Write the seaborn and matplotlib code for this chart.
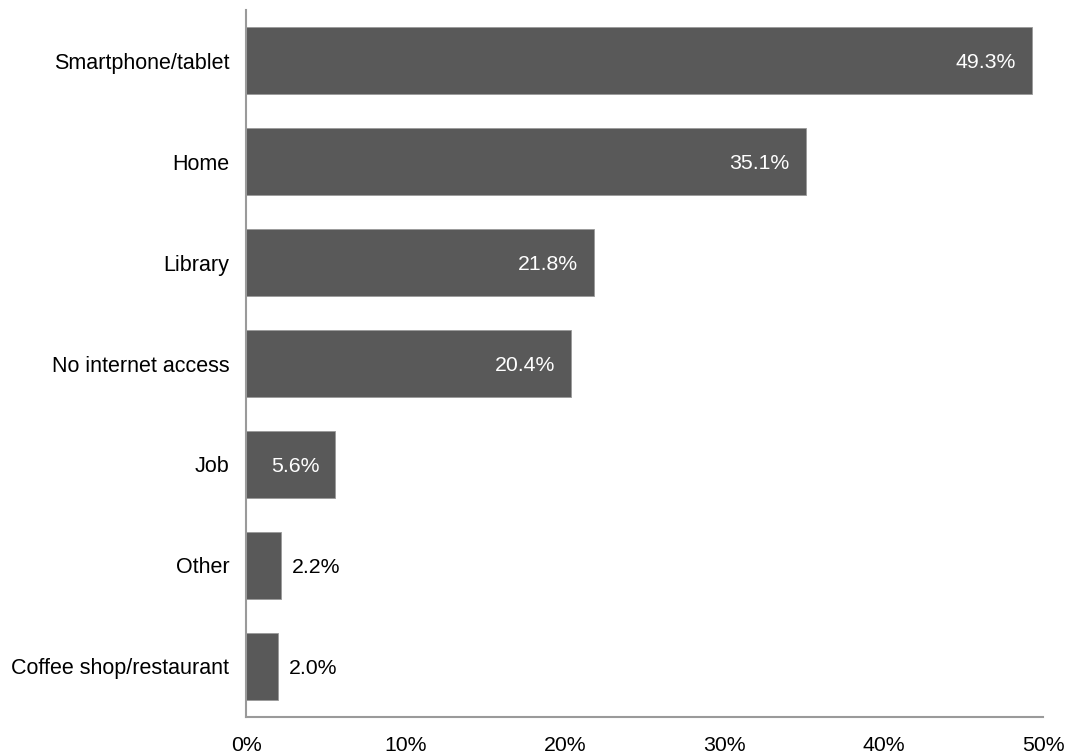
import matplotlib
matplotlib.use("Agg")
import matplotlib.pyplot as plt
import seaborn as sns
import pandas as pd

categories = ["Smartphone/tablet", "Home", "Library", "No internet access",
              "Job", "Other", "Coffee shop/restaurant"]
shares = [49.3, 35.1, 21.8, 20.4, 5.6, 2.2, 2.0]
x_ticks = [0, 10, 20, 30, 40, 50]
x_tick_labels = ["0%", "10%", "20%", "30%", "40%", "50%"]

sns.set_theme(style="white")
plt.rcParams["font.family"] = ["Liberation Sans", "DejaVu Sans"]

df = pd.DataFrame({"where": categories, "share": shares})

fig = plt.figure(figsize=(10.71, 7.54), dpi=100)
ax = fig.add_axes([0.2297, 0.0491, 0.7442, 0.9376])

sns.barplot(data=df, x="share", y="where", color="#595959", saturation=1,
            width=0.66, ax=ax, orient="h")
for p in ax.patches:
    p.set_edgecolor("#9a9a9a")
    p.set_linewidth(0.6)

ax.set_xlim(0, 50)
ax.set_ylim(6.5, -0.5)
ax.set_xticks(x_ticks)
ax.set_xticklabels(x_tick_labels, fontsize=15.3, color="black")
ax.tick_params(axis="y", labelsize=15.5, labelcolor="black", length=0, pad=12)
ax.tick_params(axis="x", length=0, pad=14)
ax.set_xlabel("")
ax.set_ylabel("")

for s in ["top", "right"]:
    ax.spines[s].set_visible(False)
for s in ["left", "bottom"]:
    ax.spines[s].set_color("#9a9a9a")
    ax.spines[s].set_linewidth(1.5)

# value labels: inside (white) for wide bars, outside (black) for narrow ones
for p, v in zip(ax.patches, shares):
    y = p.get_y() + p.get_height() / 2
    label = f"{v:.1f}%"
    if v >= 5:
        ax.annotate(label, (v, y), xytext=(-16, -2), textcoords="offset pixels",
                    ha="right", va="center", color="white", fontsize=15.3)
    else:
        ax.annotate(label, (v, y), xytext=(11, -2), textcoords="offset pixels",
                    ha="left", va="center", color="black", fontsize=15.3)

fig.savefig("out.png", dpi=100)
